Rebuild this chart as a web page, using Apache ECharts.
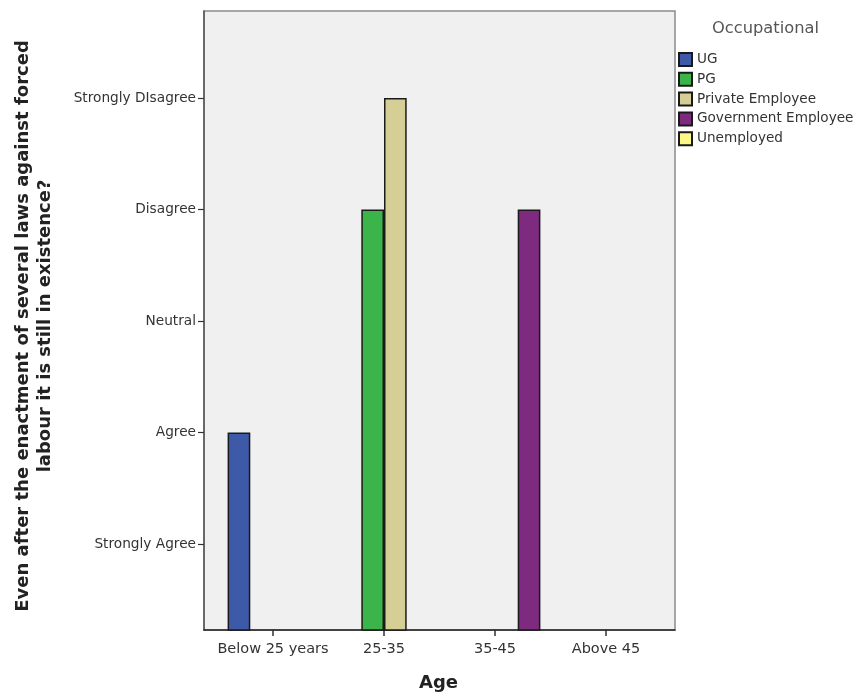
<!DOCTYPE html>
<html>
<head>
<meta charset="utf-8">
<script src="https://cdn.jsdelivr.net/npm/echarts@6/dist/echarts.min.js"></script>
<style>html,body{margin:0;padding:0;background:#fff;}#c{width:858px;height:698px;}</style>
</head>
<body>
<div id="c"></div>
<script>
var categories = ['Below 25 years', '25-35', '35-45', 'Above 45'];
var responseLabels = ['Strongly Agree', 'Agree', 'Neutral', 'Disagree', 'Strongly DIsagree'];
var seriesNames = ['UG', 'PG', 'Private Employee', 'Government Employee', 'Unemployed'];
var seriesColors = ['#3d59a8', '#3bb54a', '#d5cf96', '#7d2a7f', '#fbf887'];
var ugValues = [2, null, null, null];
var pgValues = [null, 4, null, null];
var privateValues = [null, 5, null, null];
var govValues = [null, null, 4, null];
var unemployedValues = [null, null, null, null];

var yMin = 0.23, yMax = 5.78;
var FONT = 'DejaVu Sans';
var chart = echarts.init(document.getElementById('c'));
var dataSets = [ugValues, pgValues, privateValues, govValues];
var series = dataSets.map(function (d, i) {
  return {
    name: seriesNames[i], type: 'bar', xAxisIndex: 1, yAxisIndex: 1,
    data: d, barWidth: 22.7, barGap: '0%',
    itemStyle: { color: seriesColors[i], borderColor: '#1a1a1a', borderWidth: 1.5 },
    emphasis: { disabled: true }
  };
});
series.push({
  name: seriesNames[4], type: 'bar', xAxisIndex: 0, yAxisIndex: 0,
  data: unemployedValues,
  itemStyle: { color: seriesColors[4], borderColor: '#1a1a1a', borderWidth: 1.5 }
});

chart.setOption({
  animation: false,
  grid: [
    { left: 204, top: 11, width: 471, height: 619, show: true, backgroundColor: '#f0f0f0', borderColor: '#8a8a8a', borderWidth: 1.5 },
    { left: 217.5, top: 11, width: 444, height: 619 }
  ],
  xAxis: [
    { type: 'category', gridIndex: 0, data: categories, axisLine: { lineStyle: { color: '#222', width: 1.5 } }, axisTick: { show: false }, axisLabel: { show: false } },
    { type: 'category', gridIndex: 1, data: categories,
      axisLine: { show: false },
      axisTick: { show: true, alignWithLabel: true, length: 6, lineStyle: { color: '#333', width: 1.5 } },
      axisLabel: { interval: 0, color: '#333', fontSize: 14.5, fontFamily: FONT, margin: 12 }
    }
  ],
  yAxis: [
    { type: 'value', gridIndex: 0, min: yMin, max: yMax,
      splitLine: { show: false },
      axisLine: { show: true, lineStyle: { color: '#555', width: 1.5 } },
      axisTick: { show: true, customValues: [1, 2, 3, 4, 5], length: 6, lineStyle: { color: '#333', width: 1.2 } },
      axisLabel: { customValues: [1, 2, 3, 4, 5], color: '#333', fontSize: 13.7, fontFamily: FONT, margin: 8,
        formatter: function (v) { return responseLabels[Math.round(v) - 1] || ''; } }
    },
    { type: 'value', gridIndex: 1, min: yMin, max: yMax, show: false, splitLine: { show: false } }
  ],
  legend: {
    orient: 'vertical', left: 678, top: 52, padding: 0,
    itemWidth: 13, itemHeight: 13, itemGap: 4.8,
    icon: 'rect',
    textStyle: { fontSize: 13.6, color: '#333', fontFamily: FONT },
    data: seriesNames
  },
  graphic: [
    { type: 'text', left: 712, top: 21, style: { text: 'Occupational', fontSize: 16.3, fill: '#555', fontFamily: FONT } },
    { type: 'text', left: 419, top: 674, style: { text: 'Age', fontSize: 18, fontWeight: 'bold', fill: '#222', fontFamily: FONT } },
    { type: 'text', x: 34, y: 326, rotation: Math.PI / 2,
      style: { text: 'Even after the enactment of several laws against forced\nlabour it is still in existence?',
        fontSize: 18, fontWeight: 'bold', fill: '#222', fontFamily: FONT, align: 'center', verticalAlign: 'middle', lineHeight: 22 } }
  ],
  series: series
});
</script>
</body>
</html>
